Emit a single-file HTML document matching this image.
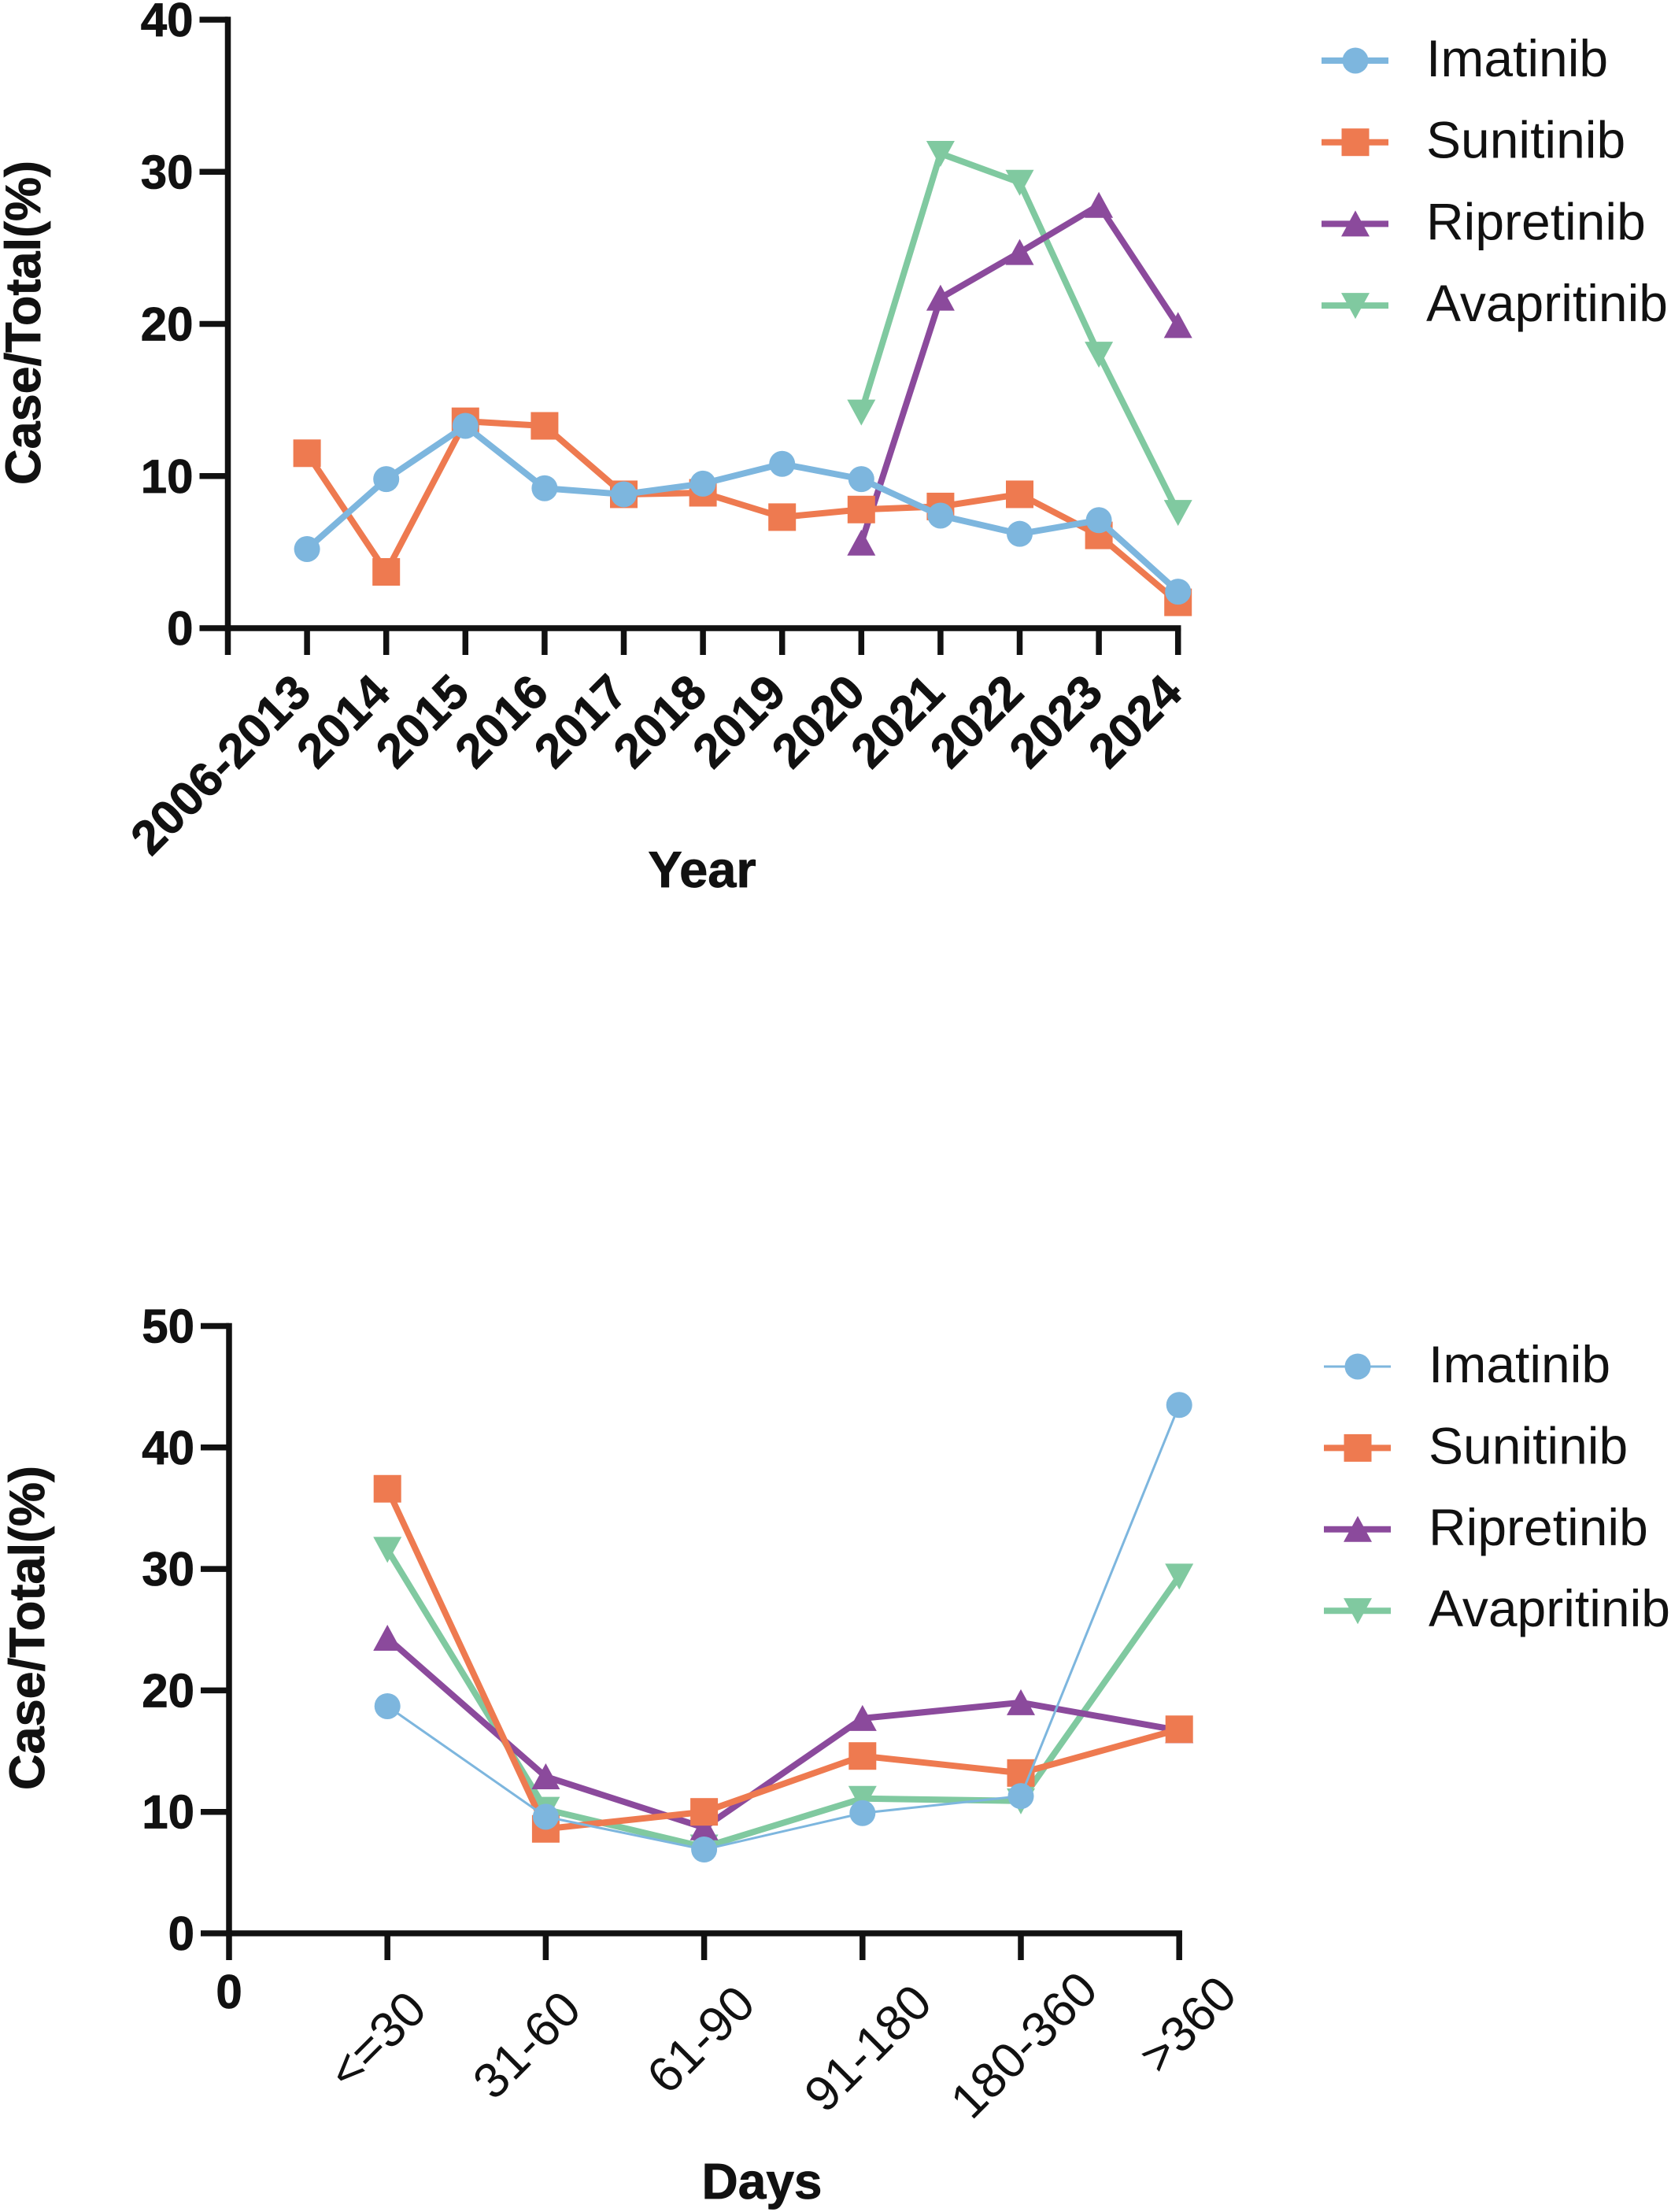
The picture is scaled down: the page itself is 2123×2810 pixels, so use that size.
<!DOCTYPE html>
<html lang="en">
<head>
<meta charset="utf-8">
<title>Case/Total by year and by days</title>
<style>
  html, body { margin: 0; padding: 0; background: #fff; }
  svg { display: block; }
  text { font-family: "Liberation Sans", Arial, sans-serif; fill: #111; }
  text[font-weight="bold"] { stroke: #111; stroke-width: 0.8px; }
</style>
</head>
<body>
<svg id="figure" xmlns="http://www.w3.org/2000/svg" width="2123" height="2810" viewBox="0 0 2123 2810">
  <rect width="2123" height="2810" fill="#fff"/>
  <g id="chart-year"></g>
  <g id="chart-days"></g>
</svg>
<script>
// Chart 1: by year
const yearCategories = ["2006-2013","2014","2015","2016","2017","2018","2019","2020","2021","2022","2023","2024"];
const yearTicks = [0,10,20,30,40];
const yearImatinib = [5.2,9.8,13.3,9.2,8.8,9.5,10.8,9.8,7.4,6.2,7.1,2.4];
const yearSunitinib = [11.5,3.7,13.6,13.3,8.8,8.9,7.3,7.8,8.0,8.8,6.1,1.7];
const yearRipretinib = [null,null,null,null,null,null,null,5.6,21.7,24.7,27.8,19.9];
const yearAvapritinib = [null,null,null,null,null,null,null,14.2,31.2,29.3,18.0,7.6];

// Chart 2: by days
const dayCategories = ["<=30","31-60","61-90","91-180","180-360",">360"];
const dayTicks = [0,10,20,30,40,50];
const dayImatinib = [18.7,9.6,6.9,9.9,11.3,43.5];
const daySunitinib = [36.6,8.6,10.0,14.6,13.2,16.8];
const dayRipretinib = [24.3,12.9,8.7,17.7,19.0,16.7];
const dayAvapritinib = [31.6,10.2,7.1,11.1,10.9,29.4];

const legendLabels = ["Imatinib","Sunitinib","Ripretinib","Avapritinib"];

const NS = "http://www.w3.org/2000/svg";
const COLORS = { Imatinib: "#7DB6DE", Sunitinib: "#EE7A50", Ripretinib: "#8B4A9C", Avapritinib: "#80C9A0" };
const INK = "#111";

function el(parent, tag, attrs) {
  const node = document.createElementNS(NS, tag);
  for (const k in attrs) node.setAttribute(k, attrs[k]);
  parent.appendChild(node);
  return node;
}

function marker(parent, name, cx, cy) {
  const fill = COLORS[name];
  let node;
  if (name === "Imatinib") {
    node = el(parent, "circle", { cx: cx, cy: cy, r: 16.5, fill: fill });
  } else if (name === "Sunitinib") {
    node = el(parent, "rect", { x: cx - 17.5, y: cy - 17.5, width: 35, height: 35, fill: fill });
  } else if (name === "Ripretinib") {
    node = el(parent, "polygon", { points: (cx) + "," + (cy - 17) + " " + (cx + 18) + "," + (cy + 16) + " " + (cx - 18) + "," + (cy + 16), fill: fill });
  } else {
    node = el(parent, "polygon", { points: (cx - 18) + "," + (cy - 16) + " " + (cx + 18) + "," + (cy - 16) + " " + (cx) + "," + (cy + 17), fill: fill });
  }
  return node;
}

function drawChart(root, cfg) {
  const xAt = function (i) { return cfg.xStart + cfg.xStep * (i + 1); };
  const yAt = function (v) { return cfg.y0 - (v / cfg.yMax) * (cfg.y0 - cfg.yTop); };
  const xEnd = xAt(cfg.categories.length - 1);
  const axisW = 7.5;

  // axes
  const yAxis = el(root, "line", { x1: cfg.xStart, y1: cfg.yTop - axisW / 2, x2: cfg.xStart, y2: cfg.y0 + axisW / 2, stroke: INK, "stroke-width": axisW });
  
  
  const xAxis = el(root, "line", { x1: cfg.xStart - axisW / 2, y1: cfg.y0, x2: xEnd + axisW / 2, y2: cfg.y0, stroke: INK, "stroke-width": axisW });
  
  

  // y ticks
  cfg.yTicks.forEach(function (v) {
    const t = el(root, "line", { x1: cfg.xStart - 36, y1: yAt(v), x2: cfg.xStart, y2: yAt(v), stroke: INK, "stroke-width": axisW });
    
    
    const l = el(root, "text", { x: cfg.xStart - 44, y: yAt(v) + 21, "text-anchor": "end", "font-size": cfg.yTickSize, "font-weight": "bold" });
    l.textContent = String(v);
    
    
  });

  // x origin tick
  const ot = el(root, "line", { x1: cfg.xStart, y1: cfg.y0, x2: cfg.xStart, y2: cfg.y0 + 34, stroke: INK, "stroke-width": axisW });
  
  

  // x ticks + labels
  cfg.categories.forEach(function (c, i) {
    const x = xAt(i);
    const t = el(root, "line", { x1: x, y1: cfg.y0, x2: x, y2: cfg.y0 + 34, stroke: INK, "stroke-width": axisW });
    
    
    let l;
    if (cfg.labelPlacement) {
      const place = cfg.labelPlacement[i];
      const cx = x + place[0], cy = cfg.y0 + place[1];
      l = el(root, "text", { x: cx, y: cy, dy: "0.36em", "text-anchor": "middle", "font-size": cfg.xLabelSize, "font-weight": cfg.xLabelWeight, transform: "rotate(-45 " + cx + " " + cy + ")" });
    } else {
      const lx = x + cfg.labelDx, ly = cfg.y0 + cfg.labelDy;
      l = el(root, "text", { x: lx, y: ly, "text-anchor": "end", "font-size": cfg.xLabelSize, "font-weight": cfg.xLabelWeight, transform: "rotate(-45 " + lx + " " + ly + ")" });
    }
    l.textContent = c;
    
    
  });

  // titles
  const yt = el(root, "text", { x: 0, y: 0, "text-anchor": "middle", "font-size": 63, "font-weight": "bold", transform: "translate(" + cfg.yTitleX + " " + cfg.yTitleY + ") rotate(-90)" });
  yt.textContent = "Case/Total(%)";
  
  
  const xt = el(root, "text", { x: cfg.xTitleX, y: cfg.xTitleY, "text-anchor": "middle", "font-size": cfg.xTitleSize, "font-weight": "bold" });
  xt.textContent = cfg.xTitle;
  
  

  // series: back to front
  ["Avapritinib", "Ripretinib", "Sunitinib", "Imatinib"].forEach(function (name) {
    const values = cfg.series[name];
    const g = el(root, "g", {});
    
    
    const pts = [];
    values.forEach(function (v, i) {
      if (v !== null) pts.push(xAt(i) + "," + yAt(v));
    });
    const line = el(g, "polyline", { points: pts.join(" "), fill: "none", stroke: COLORS[name], "stroke-width": cfg.lineW[name], "stroke-linejoin": "round" });
    
    
    values.forEach(function (v, i) {
      if (v === null) return;
      const m = marker(g, name, xAt(i), yAt(v));
      
      
    });
  });

  // legend
  const lg = el(root, "g", {});
  
  
  legendLabels.forEach(function (name, i) {
    const y = cfg.legendY + i * cfg.legendStep;
    const row = el(lg, "g", {});
    
    
    el(row, "line", { x1: cfg.legendX, y1: y, x2: cfg.legendX + 85, y2: y, stroke: COLORS[name], "stroke-width": cfg.lineW[name] });
    marker(row, name, cfg.legendX + 43, y);
    const t = el(row, "text", { x: cfg.legendX + 133, y: y + 20, "font-size": 66 });
    t.textContent = name;
  });
}

drawChart(document.getElementById("chart-year"), {
  categories: yearCategories,
  yTicks: yearTicks,
  series: { Imatinib: yearImatinib, Sunitinib: yearSunitinib, Ripretinib: yearRipretinib, Avapritinib: yearAvapritinib },
  lineW: { Imatinib: 8, Sunitinib: 8, Ripretinib: 8, Avapritinib: 8 },
  xStart: 289.5, xStep: 100.6, y0: 798, yTop: 25, yMax: 40,
  yTickSize: 60, xLabelSize: 61, xLabelWeight: "bold", labelDx: 8, labelDy: 85,
  yTitleX: 51, yTitleY: 410, xTitle: "Year", xTitleSize: 65, xTitleX: 892, xTitleY: 1127,
  legendX: 1679, legendY: 77, legendStep: 103.7
});

drawChart(document.getElementById("chart-days"), {
  categories: dayCategories,
  yTicks: dayTicks,
  series: { Imatinib: dayImatinib, Sunitinib: daySunitinib, Ripretinib: dayRipretinib, Avapritinib: dayAvapritinib },
  lineW: { Imatinib: 3, Sunitinib: 8, Ripretinib: 8, Avapritinib: 8 },
  xStart: 291, xStep: 201.2, y0: 2456, yTop: 1684.5, yMax: 50,
  yTickSize: 60, xLabelSize: 63, xLabelWeight: "normal",
  labelPlacement: [[-14,135],[-25,141],[-5,134],[6,145],[3,141],[10,115]],
  yTitleX: 56, yTitleY: 2068, xTitle: "Days", xTitleSize: 64, xTitleX: 968, xTitleY: 2793,
  legendX: 1682, legendY: 1736, legendStep: 103.4
});

const zero = document.createElementNS(NS, "text");
zero.setAttribute("x", "291");
zero.setAttribute("y", "2551");
zero.setAttribute("text-anchor", "middle");
zero.setAttribute("font-size", "60");
zero.setAttribute("font-weight", "bold");
zero.textContent = "0";


document.getElementById("chart-days").appendChild(zero);
</script>
</body>
</html>
